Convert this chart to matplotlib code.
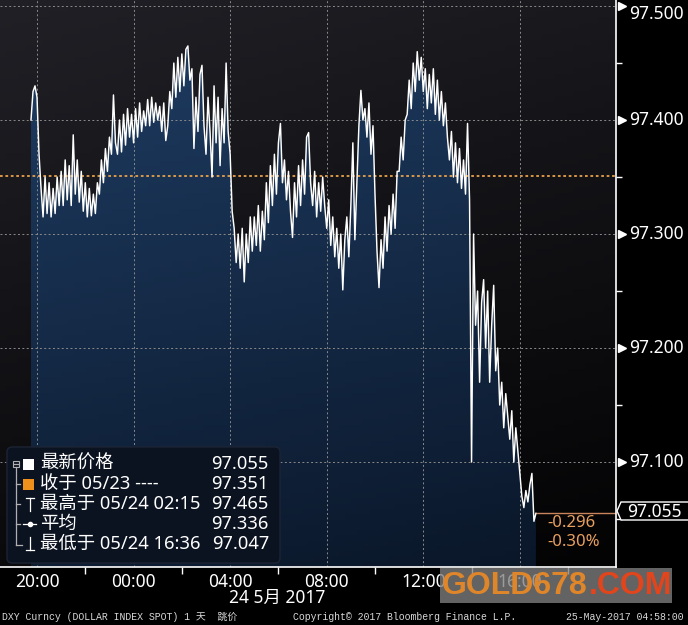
import matplotlib
matplotlib.use("Agg")
from matplotlib import pyplot as plt
import matplotlib.dates as mdates
import matplotlib.transforms as mtransforms
from matplotlib.patches import FancyBboxPatch, Rectangle, Polygon
from matplotlib.lines import Line2D
from matplotlib.colors import LinearSegmentedColormap
import numpy as np
import pandas as pd

W, H = 688, 625

# DXY 5-minute prices, 23 May 19:45 -> 24 May 16:40
price = [
    97.400, 97.425, 97.430,
    97.420, 97.370, 97.340, 97.315, 97.350, 97.318, 97.345, 97.315, 97.340, 97.318, 97.350, 97.325,  # 20h
    97.355, 97.325, 97.365, 97.330, 97.360, 97.325, 97.387, 97.335, 97.365, 97.328, 97.355, 97.320,  # 21h
    97.345, 97.315, 97.340, 97.316, 97.335, 97.318, 97.345, 97.335, 97.365, 97.345, 97.375, 97.355,  # 22h
    97.385, 97.370, 97.422, 97.380, 97.370, 97.400, 97.372, 97.405, 97.378, 97.410, 97.385, 97.405,  # 23h
    97.380, 97.410, 97.385, 97.415, 97.390, 97.408, 97.395, 97.418, 97.395, 97.420, 97.398, 97.415,  # 00h
    97.400, 97.412, 97.390, 97.415, 97.382, 97.395, 97.425, 97.410, 97.450, 97.420, 97.455, 97.425,  # 01h
    97.458, 97.430, 97.462, 97.465, 97.435, 97.445, 97.375, 97.420, 97.390, 97.440, 97.448, 97.395,  # 02h
    97.370, 97.420, 97.390, 97.350, 97.430, 97.380, 97.420, 97.360, 97.410, 97.380, 97.450, 97.390,  # 03h
    97.370, 97.320, 97.305, 97.275, 97.300, 97.270, 97.305, 97.258, 97.300, 97.275, 97.315, 97.285,  # 04h
    97.315, 97.290, 97.325, 97.285, 97.320, 97.295, 97.345, 97.310, 97.360, 97.325, 97.370, 97.335,  # 05h
    97.380, 97.397, 97.345, 97.365, 97.330, 97.355, 97.320, 97.297, 97.345, 97.315, 97.360, 97.325,  # 06h
    97.365, 97.335, 97.385, 97.389, 97.345, 97.325, 97.355, 97.315, 97.345, 97.320, 97.350, 97.325,  # 07h
    97.305, 97.330, 97.290, 97.315, 97.280, 97.305, 97.270, 97.300, 97.251, 97.295, 97.315, 97.280,  # 08h
    97.325, 97.380, 97.295, 97.345, 97.395, 97.426, 97.400, 97.410, 97.385, 97.415, 97.370, 97.395,  # 09h
    97.335, 97.285, 97.253, 97.295, 97.270, 97.315, 97.285, 97.325, 97.300, 97.335, 97.305, 97.355,  # 10h
    97.355, 97.385, 97.365, 97.400, 97.405, 97.435, 97.410, 97.450, 97.425, 97.460, 97.435, 97.455,  # 11h
    97.425, 97.445, 97.410, 97.440, 97.415, 97.445, 97.405, 97.435, 97.400, 97.425, 97.395, 97.415,  # 12h
    97.385, 97.365, 97.390, 97.350, 97.380, 97.345, 97.375, 97.340, 97.365, 97.335, 97.397, 97.330,  # 13h
    97.100, 97.300, 97.220, 97.250, 97.170, 97.240, 97.260, 97.200, 97.250, 97.170, 97.220, 97.255,  # 14h
    97.180, 97.200, 97.150, 97.170, 97.130, 97.160, 97.140, 97.120, 97.145, 97.100, 97.130, 97.110,  # 15h
    97.090, 97.070, 97.060, 97.075, 97.065, 97.080, 97.090, 97.048, 97.055,  # 16h
]
times = pd.date_range("2017-05-23 19:45", periods=len(price), freq="5min")

prev_close = 97.351
last = 97.055
y_ticks = [97.100, 97.200, 97.300, 97.400, 97.500]
legend_rows = [("最新价格", "97.055"), ("收于 05/23 ----", "97.351"),
               ("最高于 05/24 02:15", "97.465"), ("平均", "97.336"),
               ("最低于 05/24 16:36", "97.047")]
change_txt = ["-0.296", "-0.30%"]
date_label = "24 5月 2017"
footer = ["DXY Curncy (DOLLAR INDEX SPOT) 1 天  跳价",
          "Copyright© 2017 Bloomberg Finance L.P.",
          "25-May-2017 04:58:00"]

CJK = ["Noto Sans", "Noto Sans CJK SC", "DejaVu Sans"]


def F(x, y):
    return (x / W, 1 - y / H)


fig = plt.figure(figsize=(W / 100, H / 100), dpi=100, facecolor="black")
ax = fig.add_axes([0, 1 - 567 / H, 616 / W, 567 / H])
ax.set_facecolor("black")

xmin = mdates.date2num(pd.Timestamp("2017-05-23 18:28"))
xmax = mdates.date2num(pd.Timestamp("2017-05-24 19:59"))
ymin, ymax = 97.0079, 97.5053
ax.set_xlim(xmin, xmax)
ax.set_ylim(ymin, ymax)

# background gradient
yy, xx = np.mgrid[0:1:100j, 0:1:100j]
bg = (1 - yy) * 0.75 + (1 - xx) * 0.25
bg_cmap = LinearSegmentedColormap.from_list("bg", ["#030304", "#202026"])
ax.imshow(bg, extent=[xmin, xmax, ymin, ymax], aspect="auto", cmap=bg_cmap,
          origin="upper", zorder=0, vmin=0, vmax=1)

# area fill with gradient
tnum = mdates.date2num(times)
poly = ax.fill_between(tnum, price, ymin, facecolor="none", edgecolor="none", zorder=1)
fill_cmap = LinearSegmentedColormap.from_list("fill", ["#0a1628", "#1e3c62"])
fg = (1 - yy) * 0.8 + (1 - xx) * 0.2
im = ax.imshow(fg, extent=[xmin, xmax, ymin, 97.47], aspect="auto", cmap=fill_cmap,
               origin="upper", zorder=1, vmin=0, vmax=1)
im.set_clip_path(poly.get_paths()[0], transform=ax.transData)

ax.plot(tnum, price, color="white", lw=1.05, zorder=3)

# previous close and last price lines
ax.axhline(prev_close, color="#e8a04a", ls=(0, (1.5, 1.5)), lw=1.3, zorder=2)
ax.hlines(last, tnum[-1], xmax, color="#c8845a", lw=1.0, zorder=2)

# axes styling
for s in ["top", "left"]:
    ax.spines[s].set_visible(False)
for s in ["bottom", "right"]:
    ax.spines[s].set_color("white")
    ax.spines[s].set_linewidth(1.2)
    ax.spines[s].set_zorder(5)

ax.set_yticks(y_ticks)
ax.set_yticks([97.05, 97.15, 97.25, 97.35, 97.45], minor=True)
ax.tick_params(axis="y", which="both", left=False, labelleft=False, right=True,
               labelright=False, colors="white")
ax.tick_params(axis="y", which="major", length=0)
ax.tick_params(axis="y", which="minor", length=4, width=1)

hours = pd.date_range("2017-05-23 20:00", "2017-05-24 16:00", freq="4h")
minors = pd.date_range("2017-05-23 22:00", "2017-05-24 18:00", freq="4h")
ax.set_xticks(mdates.date2num(hours))
ax.set_xticks(mdates.date2num(minors), minor=True)
ax.xaxis.set_major_formatter(mdates.DateFormatter("%H:%M"))
ax.tick_params(axis="x", which="major", length=0, pad=4, labelsize=12.5, colors="white")
ax.tick_params(axis="x", which="minor", length=5, width=1, colors="white")
for lab in ax.get_xticklabels():
    lab.set_family("Noto Sans")

ax.grid(True, which="major", color="#8a8a8a", ls=(0, (2, 2.5)), lw=0.7, zorder=2)
ax.set_axisbelow(False)

trans = mtransforms.blended_transform_factory(ax.transAxes, ax.transData)
ax.plot([1 + 6 / 616] * len(y_ticks), y_ticks, ls="none", marker=">", ms=6,
        color="white", transform=trans, clip_on=False, zorder=6)
# right-hand price labels; the top one sits just under its tick to stay inside
for v in y_ticks:
    yoff = -6 / 72 if v == 97.500 else 0
    off = mtransforms.offset_copy(trans, fig=fig, y=yoff, units="inches")
    ax.text(1 + 13 / 616, v, f"{v:.3f}", transform=off, color="white", fontsize=12.5,
            family="Noto Sans", va="center", ha="left", clip_on=False)

# last price tag
tag = Polygon([F(617, 511), F(621, 502), F(690, 502), F(690, 520), F(621, 520)],
              closed=True, transform=fig.transFigure, facecolor="black",
              edgecolor="white", lw=1.0)
fig.patches.append(tag)
fig.text(*F(627, 512), "97.055", color="white", fontsize=12.5, family="Noto Sans",
         va="center", ha="left")
fig.text(*F(547, 523), change_txt[0], color="#e8a060", fontsize=12, family="Noto Sans",
         va="center", ha="left")
fig.text(*F(547, 542), change_txt[1], color="#e8a060", fontsize=12, family="Noto Sans",
         va="center", ha="left")

# legend box
x0, y0 = F(7, 563)
box = FancyBboxPatch((x0, y0), 273 / W, 116 / H,
                     boxstyle="round,pad=0,rounding_size=0.008",
                     transform=fig.transFigure, facecolor="#0b1220",
                     edgecolor="#1c2434", lw=1.0, zorder=3)
fig.patches.append(box)

row_y = [464, 484, 504, 524, 544]
for (name, val), ry in zip(legend_rows, row_y):
    fig.text(*F(40, ry), name, color="white", fontsize=13.2, family=CJK,
             va="center", ha="left", zorder=4)
    fig.text(*F(269, ry), val, color="white", fontsize=13.2, family=CJK,
             va="center", ha="right", zorder=4)

sq1 = Rectangle(F(23, 470), 11 / W, 11 / H, transform=fig.transFigure,
                facecolor="white", zorder=4)
sq2 = Rectangle(F(23, 490), 11 / W, 11 / H, transform=fig.transFigure,
                facecolor="#f0901c", zorder=4)
fig.patches.extend([sq1, sq2])
minus = Rectangle(F(13, 467), 6 / W, 6 / H, transform=fig.transFigure,
                  facecolor="none", edgecolor="#b0b0b0", lw=0.8, zorder=4)
fig.patches.append(minus)


def seg(xa, ya, xb, yb, c="#b0b0b0", lw=0.9):
    (a1, b1), (a2, b2) = F(xa, ya), F(xb, yb)
    fig.lines.append(Line2D([a1, a2], [b1, b2], transform=fig.transFigure,
                            color=c, lw=lw, zorder=4))


seg(16, 467, 16, 545)
seg(16, 545, 22, 545)
seg(16, 484, 20, 484)
seg(16, 504, 20, 504)
seg(16, 524, 20, 524)
seg(14, 464, 18, 464)
# high / avg / low glyphs
seg(26, 498, 34, 498, "white")
seg(30, 498, 30, 511, "white")
seg(23, 524, 36, 524, "white")
fig.lines.append(Line2D([F(30, 524)[0]], [F(30, 524)[1]], transform=fig.transFigure,
                        marker="o", ms=3, color="white", zorder=4))
seg(30, 537, 30, 550, "white")
seg(26, 550, 34, 550, "white")

fig.text(*F(277, 598), date_label, color="white", fontsize=12.5, family=CJK,
         va="center", ha="center")

# watermark
wm = Rectangle(F(440, 603), 232 / W, 35 / H, transform=fig.transFigure,
               facecolor="#808080", alpha=0.78, zorder=5)
fig.patches.append(wm)
fig.text(*F(442, 586), "GOLD678", color="#e0862a", fontsize=23, weight="bold",
         family="Liberation Sans", va="center", ha="left", zorder=6)
fig.text(*F(589, 586), ".COM", color="#e2451c", fontsize=23, weight="bold",
         family="Liberation Sans", va="center", ha="left", zorder=6)

# footer
mono = ["Liberation Mono", "Noto Sans CJK SC"]
fig.text(*F(2, 617), footer[0], color="#d8d8d8", fontsize=7.1, family=mono, va="center")
fig.text(*F(293, 617), footer[1], color="#d8d8d8", fontsize=7.1, family=mono, va="center")
fig.text(*F(566, 617), footer[2], color="#d8d8d8", fontsize=7.1, family=mono, va="center")

fig.savefig("out.png", dpi=100, facecolor="black")
